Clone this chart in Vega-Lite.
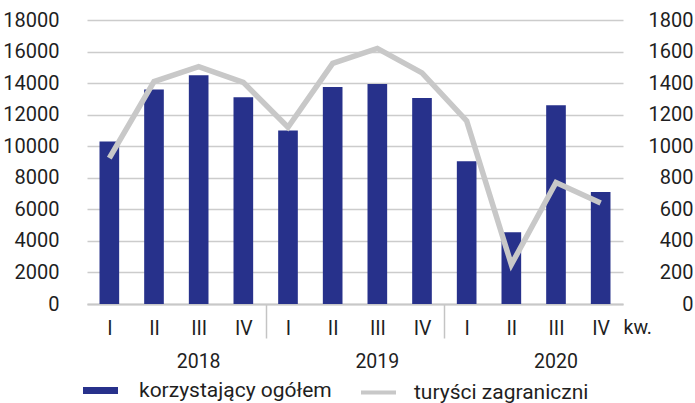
{
  "$schema": "https://vega.github.io/schema/vega-lite/v6.json",
  "width": 536,
  "height": 284,
  "autosize": {"type": "none"},
  "padding": {"left": 87, "top": 20, "right": 72, "bottom": 99},
  "config": {
    "view": {"stroke": null},
    "font": "Roboto",
    "axis": {"labelFont": "Roboto", "labelColor": "#1f1f1f", "labelFontSize": 19.5, "titleFont": "Roboto"},
    "legend": {"labelFont": "Roboto", "labelColor": "#1f1f1f", "labelFontSize": 21, "labelLimit": 400}
  },
  "data": {
    "values": [
      {"q": "2018 I", "total": 10300, "foreign": 925},
      {"q": "2018 II", "total": 13600, "foreign": 1410},
      {"q": "2018 III", "total": 14500, "foreign": 1505},
      {"q": "2018 IV", "total": 13100, "foreign": 1405},
      {"q": "2019 I", "total": 11000, "foreign": 1120},
      {"q": "2019 II", "total": 13750, "foreign": 1525},
      {"q": "2019 III", "total": 13950, "foreign": 1620},
      {"q": "2019 IV", "total": 13050, "foreign": 1465},
      {"q": "2020 I", "total": 9050, "foreign": 1160},
      {"q": "2020 II", "total": 4550, "foreign": 250},
      {"q": "2020 III", "total": 12600, "foreign": 770},
      {"q": "2020 IV", "total": 7100, "foreign": 640}
    ]
  },
  "layer": [
    {
      "mark": {"type": "bar"},
      "encoding": {
        "x": {
          "field": "q", "type": "nominal", "sort": null,
          "scale": {"paddingInner": 0.56, "paddingOuter": 0.28},
          "axis": {
            "orient": "bottom",
            "title": "kw.", "titleX": 536, "titleY": 23, "titleAlign": "left", "titleBaseline": "middle",
            "titleAngle": 0, "titleFontWeight": "normal", "titleFontSize": 19.5, "titleColor": "#1f1f1f",
            "labelExpr": "split(datum.label, ' ')[1]", "labelAngle": 0, "labelPadding": -19,
            "labelOffset": -22.33,
            "tickOffset": 22.33, "tickSize": 34, "tickColor": "#c4c4c4", "tickWidth": 1.5,
            "tickOpacity": {"condition": {"test": "datum.value === '2018 IV' || datum.value === '2019 IV'", "value": 1}, "value": 0},
            "domainColor": "#c8c8c8", "domainWidth": 2, "grid": false
          }
        },
        "y": {
          "field": "total", "type": "quantitative",
          "scale": {"domain": [0, 18000]},
          "axis": {
            "title": null, "values": [0, 2000, 4000, 6000, 8000, 10000, 12000, 14000, 16000, 18000],
            "format": "d",
            "ticks": false, "domain": false, "grid": true, "gridColor": "#cccccc", "gridWidth": 1.5,
            "labelPadding": 28, "labelFontSize": 20
          }
        },
        "fill": {
          "datum": "korzystający ogółem", "type": "nominal",
          "scale": {"range": ["#27318b"]},
          "legend": {
            "title": null, "orient": "none", "legendX": -4, "legendY": 353,
            "symbolType": "M-1,-0.2H1V0.2H-1Z", "symbolSize": 1225, "symbolStrokeWidth": 0,
            "labelOffset": 21
          }
        }
      }
    },
    {
      "mark": {"type": "line", "strokeWidth": 5.5},
      "encoding": {
        "x": {
          "field": "q", "type": "nominal", "sort": null,
          "axis": {
            "orient": "bottom", "title": null,
            "values": ["2018 III", "2019 III", "2020 III"],
            "labelExpr": "split(datum.label, ' ')[0]", "labelAngle": 0,
            "ticks": false, "domain": false, "grid": false, "labelPadding": 48
          }
        },
        "y": {
          "field": "foreign", "type": "quantitative",
          "scale": {"domain": [0, 1800]},
          "axis": {
            "orient": "right", "title": null, "values": [0, 200, 400, 600, 800, 1000, 1200, 1400, 1600, 1800],
            "format": "d",
            "ticks": false, "domain": false, "grid": false, "labelAlign": "right", "labelPadding": 70, "labelFontSize": 20
          }
        },
        "stroke": {
          "datum": "turyści zagraniczni", "type": "nominal",
          "scale": {"range": ["#c8c8c8"]},
          "legend": {
            "title": null, "orient": "none", "legendX": 272, "legendY": 353,
            "symbolType": "stroke", "symbolSize": 1225, "symbolStrokeWidth": 4,
            "labelOffset": 16
          }
        }
      }
    }
  ],
  "resolve": {"scale": {"y": "independent"}, "axis": {"x": "independent"}}
}
